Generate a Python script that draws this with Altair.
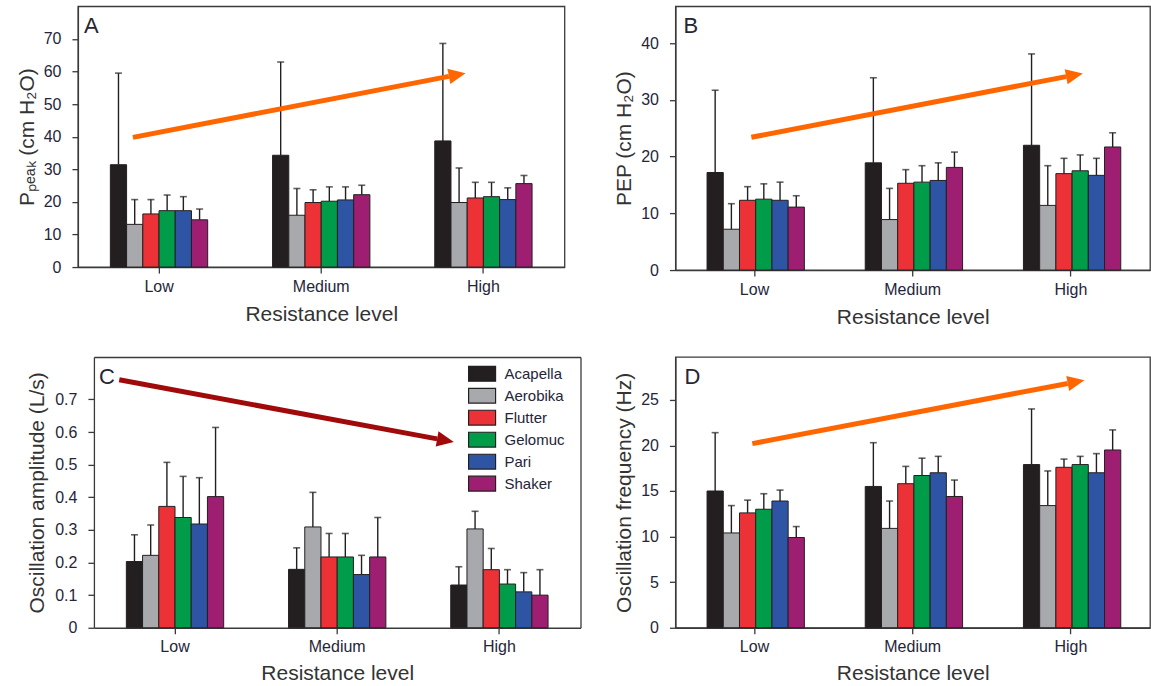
import altair as alt
import pandas as pd

levels = ["Low", "Medium", "High"]
devices = ["Acapella", "Aerobika", "Flutter", "Gelomuc", "Pari", "Shaker"]
device_colors = ["#231F20", "#A7A9AC", "#EC3237", "#009C4A", "#2E55A4", "#9E1F72"]

# Panel A: Ppeak (cm H2O), mean and SD per device, per resistance level
ppeak_low = [31.4, 13.1, 16.3, 17.3, 17.3, 14.5]
ppeak_low_sd = [28.1, 7.6, 4.4, 4.8, 4.3, 3.3]
ppeak_med = [34.3, 15.9, 19.8, 20.2, 20.6, 22.2]
ppeak_med_sd = [28.6, 8.2, 3.9, 4.4, 4.0, 2.9]
ppeak_high = [38.7, 19.8, 21.2, 21.6, 20.7, 25.6]
ppeak_high_sd = [29.9, 10.6, 4.8, 4.4, 3.6, 2.5]

# Panel B: PEP (cm H2O)
pep_low = [17.2, 7.2, 12.3, 12.5, 12.3, 11.1]
pep_low_sd = [14.5, 4.5, 2.4, 2.7, 3.2, 2.0]
pep_med = [18.9, 8.9, 15.3, 15.5, 15.8, 18.1]
pep_med_sd = [15.0, 5.5, 2.4, 2.9, 3.1, 2.7]
pep_high = [22.0, 11.4, 17.0, 17.5, 16.7, 21.7]
pep_high_sd = [16.1, 7.0, 2.7, 2.8, 3.0, 2.5]

# Panel C: oscillation amplitude (L/s)
amp_low = [0.203, 0.222, 0.372, 0.338, 0.318, 0.402]
amp_low_sd = [0.082, 0.093, 0.135, 0.126, 0.142, 0.212]
amp_med = [0.179, 0.309, 0.217, 0.217, 0.163, 0.217]
amp_med_sd = [0.066, 0.106, 0.072, 0.072, 0.059, 0.121]
amp_high = [0.131, 0.303, 0.178, 0.134, 0.110, 0.100]
amp_high_sd = [0.056, 0.054, 0.065, 0.044, 0.059, 0.078]

# Panel D: oscillation frequency (Hz)
freq_low = [15.0, 10.4, 12.6, 13.0, 13.9, 9.9]
freq_low_sd = [6.4, 3.0, 1.4, 1.7, 1.2, 1.2]
freq_med = [15.5, 10.9, 15.8, 16.7, 17.0, 14.4]
freq_med_sd = [4.8, 3.0, 1.9, 1.9, 1.8, 1.8]
freq_high = [17.9, 13.4, 17.6, 17.9, 17.0, 19.5]
freq_high_sd = [6.1, 3.8, 0.9, 0.9, 2.1, 2.2]

# Trend arrows (x in category units 0..3, y in data units): start, head base
arrow_a_x = [0.339, 2.287]
arrow_a_y = [39.8, 58.5]
arrow_b_x = [0.48, 2.47]
arrow_b_y = [23.4, 34.1]
arrow_c_x = [0.156, 2.116]
arrow_c_y = [0.76, 0.579]
arrow_d_x = [0.486, 2.48]
arrow_d_y = [20.2, 26.8]

# Axis ticks
ticks_a = [0, 10, 20, 30, 40, 50, 60, 70]
ticks_b = [0, 10, 20, 30, 40]
ticks_c = [0, 0.1, 0.2, 0.3, 0.4, 0.5, 0.6, 0.7]
ticks_d = [0, 5, 10, 15, 20, 25]

FONT = "Liberation Sans"
LABEL = "#25253a"
TITLE = "#333333"
LINE = "#3a3a3a"
ORANGE = "#FF6600"
DARKRED = "#A00A0A"


def frame(means, sds):
    rows = []
    for lev, m, s in zip(levels, means, sds):
        for d, mv, sv in zip(devices, m, s):
            rows.append({"level": lev, "device": d, "value": mv, "upper": mv + sv})
    return pd.DataFrame(rows)


def panel(df, width, height, ymax, yticks, ytitle, yfmt, ytitlepad, letter, letter_dx,
          ax, ay, arrow_color, arrow_angle, legend=None, shift=0, xtitlepad=9):
    rng = alt.Undefined if shift == 0 else [shift, width]
    xscale = alt.Scale(domain=levels, paddingInner=0.4, paddingOuter=0.2, range=rng)
    xaxis = alt.Axis(title="Resistance level", labelAngle=0, tickSize=6, labelPadding=5,
                     titlePadding=xtitlepad, labelFontSize=16, titleFontSize=21, grid=False)
    xenc = alt.X("level:N", sort=levels, scale=xscale, axis=xaxis)
    xoff = alt.XOffset("device:N", sort=devices,
                       scale=alt.Scale(domain=devices, paddingInner=0, paddingOuter=0))
    yscale = alt.Scale(domain=[0, ymax], nice=False, zero=True)
    yaxis = alt.Axis(title=ytitle, values=yticks, format=yfmt, grid=False, tickSize=6,
                     labelPadding=11, titlePadding=ytitlepad, labelFontSize=16,
                     titleFontSize=21, offset=-shift if shift else alt.Undefined)

    color = alt.Color("device:N", sort=devices,
                      scale=alt.Scale(domain=devices, range=device_colors),
                      legend=legend)
    bars = alt.Chart(df).mark_bar(stroke="#231F20", strokeWidth=1).encode(
        x=xenc, xOffset=xoff, y=alt.Y("value:Q", scale=yscale, axis=yaxis), color=color)
    rules = alt.Chart(df).mark_rule(color="#231F20", strokeWidth=1.4).encode(
        x=xenc, xOffset=xoff, y=alt.Y("value:Q", scale=yscale, axis=yaxis), y2="upper:Q")
    caps = alt.Chart(df).mark_tick(color="#231F20", thickness=1.6, size=7).encode(
        x=xenc, xOffset=xoff, y=alt.Y("upper:Q", scale=yscale, axis=yaxis))
    lab = alt.Chart(pd.DataFrame({"t": [letter]})).mark_text(
        align="left", baseline="alphabetic", fontSize=22, font=FONT, color="#262633"
    ).encode(text="t:N", x=alt.value(letter_dx + shift), y=alt.value(27))
    inner = alt.layer(bars, rules, caps, lab)

    adf = pd.DataFrame({"ax": ax, "ay": ay, "k": [0, 1]})
    if shift:
        a_xaxis = alt.Axis(orient="top", labels=False, ticks=False, title=None,
                           domain=True, grid=False)
        a_yaxis = alt.Axis(orient="right", labels=False, ticks=False, title=None,
                           domain=True, grid=False)
    else:
        a_xaxis = None
        a_yaxis = yaxis
    axenc = alt.X("ax:Q", scale=alt.Scale(domain=[0, 3], nice=False, zero=False, range=rng),
                  axis=a_xaxis)
    ayenc = alt.Y("ay:Q", scale=yscale, axis=a_yaxis)
    line = alt.Chart(adf).mark_line(color=arrow_color, strokeWidth=5, strokeCap="butt").encode(
        x=axenc, y=ayenc, order="k:Q")
    head = alt.Chart(adf).transform_filter("datum.k == 1").mark_point(
        shape="M0,-0.9L2,0L0,0.9Z", size=289, angle=arrow_angle, filled=True,
        color=arrow_color, opacity=1, strokeWidth=0
    ).encode(x=axenc, y=ayenc)
    arrows = alt.layer(line, head)

    out = alt.layer(inner, arrows)
    if shift:
        out = out.resolve_scale(x="independent", y="independent").properties(
            width=width, height=height, view=alt.ViewBackground(stroke="transparent"))
    else:
        out = out.resolve_scale(x="independent").properties(width=width, height=height)
    return out


legend_c = alt.Legend(
    title=None, orient="none", legendX=390, legendY=6,
    symbolType="M-1,-0.55L1,-0.55L1,0.55L-1,0.55Z", symbolSize=729,
    symbolStrokeColor="#231F20", symbolStrokeWidth=1.2, symbolOpacity=1,
    labelFontSize=15, labelFont=FONT, labelColor=LABEL, labelOffset=8,
    rowPadding=0, clipHeight=21.5, padding=0)

pa = panel(frame([ppeak_low, ppeak_med, ppeak_high], [ppeak_low_sd, ppeak_med_sd, ppeak_high_sd]),
           487, 261, 80, ticks_a, "Pₚₑₐₖ (cm H₂O)", "d", 6, "A", 6,
           arrow_a_x, arrow_a_y, ORANGE, 349.1)
pb = panel(frame([pep_low, pep_med, pep_high], [pep_low_sd, pep_med_sd, pep_high_sd]),
           475, 264, 46.5, ticks_b, "PEP (cm H₂O)", "d", 6, "B", 8,
           arrow_b_x, arrow_b_y, ORANGE, 349.1)
pc = panel(frame([amp_low, amp_med, amp_high], [amp_low_sd, amp_med_sd, amp_high_sd]),
           503, 271, 0.83, ticks_c, "Oscillation amplitude (L/s)", "~g", 7, "C", 5,
           arrow_c_x, arrow_c_y, DARKRED, 10.5, legend=legend_c, shift=16, xtitlepad=8)
pd_ = panel(frame([freq_low, freq_med, freq_high], [freq_low_sd, freq_med_sd, freq_high_sd]),
            475, 271, 29.7, ticks_d, "Oscillation frequency (Hz)", "d", 6, "D", 9,
            arrow_d_x, arrow_d_y, ORANGE, 349.3, xtitlepad=8)

row1 = alt.hconcat(pa, pb, spacing=47).resolve_scale(color="independent")
row2 = alt.hconcat(pc, pd_, spacing=31).resolve_scale(color="independent")

chart = alt.vconcat(row1, row2, spacing=28).resolve_scale(color="independent").properties(
    padding={"left": 15, "top": 5, "right": 0, "bottom": 0}
).configure_view(stroke=LINE, strokeWidth=1.3).configure_axis(
    domainColor=LINE, tickColor=LINE, domainWidth=1.3, tickWidth=1.3,
    labelColor=LABEL, titleColor=TITLE, labelFont=FONT, titleFont=FONT,
    titleFontWeight="normal"
).configure_legend(labelFont=FONT)

chart.save("out.html", embed_options={"renderer": "svg", "actions": False})
